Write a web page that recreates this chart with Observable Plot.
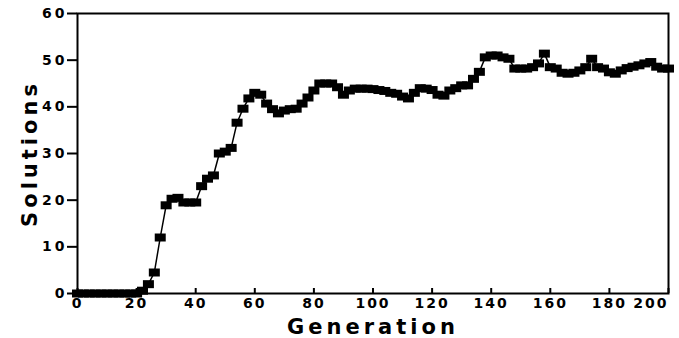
<!DOCTYPE html>
<html><head><meta charset="utf-8">
<script src="https://cdn.jsdelivr.net/npm/d3@7"></script>
<script src="https://cdn.jsdelivr.net/npm/@observablehq/plot@0.6"></script>
<style>body{margin:0;background:#fff;} svg{display:block;}</style>
</head><body>
<div id="chart"></div>
<script>
const generations = [0,2,4,6,8,10,12,14,16,18,20,22,24,26,28,30,32,34,36,38,40,42,44,46,48,50,52,54,56,58,60,62,64,66,68,70,72,74,76,78,80,82,84,86,88,90,92,94,96,98,100,102,104,106,108,110,112,114,116,118,120,122,124,126,128,130,132,134,136,138,140,142,144,146,148,150,152,154,156,158,160,162,164,166,168,170,172,174,176,178,180,182,184,186,188,190,192,194,196,198,200];
const solutions = [0,0,0,0,0,0,0,0,0,0,0,0.6,2,4.5,12,18.9,20.3,20.5,19.5,19.5,19.5,23,24.6,25.3,30,30.4,31.2,36.6,39.6,41.8,43,42.6,40.7,39.5,38.6,39.2,39.5,39.6,40.7,42,43.5,45,45,45,44.2,42.6,43.5,43.9,43.9,43.9,43.8,43.6,43.4,43,42.8,42.2,41.8,43,44,43.9,43.6,42.6,42.4,43.5,44,44.6,44.6,46,47.5,50.6,51,51,50.6,50.3,48.2,48.2,48.2,48.5,49.3,51.4,48.5,48.2,47.3,47.1,47.3,47.8,48.5,50.3,48.5,48.2,47.4,47.1,47.8,48.3,48.6,48.9,49.3,49.6,48.6,48.2,48.2];
const xTicks = [0,20,40,60,80,100,120,140,160,180,200];
const yTicks = [0,10,20,30,40,50,60];

const data = generations.map((g, i) => ({g, s: solutions[i]}));
const rectSymbol = {draw(ctx) { ctx.rect(-5.5, -4, 11, 8); }};
const font = "'DejaVu Sans', sans-serif";

const chart = Plot.plot({
  width: 679, height: 338,
  marginLeft: 77, marginRight: 11, marginTop: 13, marginBottom: 45,
  style: {fontFamily: font, fontWeight: "bold", color: "#000", background: "#fff"},
  x: {domain: [0, 200]},
  y: {domain: [0, 60]},
  marks: [
    Plot.frame({stroke: "#000", strokeWidth: 2}),
    Plot.axisY({ticks: yTicks, tickSize: 10, tickPadding: 0, strokeWidth: 2, fontSize: 14, fontWeight: "bold",
      label: "Solutions", labelAnchor: "center", labelArrow: "none", labelOffset: 55}),
    Plot.axisX({ticks: xTicks, tickSize: -5, tickPadding: 10, strokeWidth: 2, fontSize: 14, fontWeight: "bold",
      label: "Generation", labelAnchor: "center", labelArrow: "none", labelOffset: 40}),
    Plot.line(data, {x: "g", y: "s", stroke: "#000", strokeWidth: 1.5}),
    Plot.dot(data, {x: "g", y: "s", symbol: rectSymbol, fill: "#000", stroke: "none"})
  ]
});
const svg = d3.select(chart);
svg.selectAll("g[aria-label='y-axis tick label'] text").style("letter-spacing", "3px");
svg.selectAll("g[aria-label='x-axis tick label'] text").style("letter-spacing", "2px");
const xl = svg.selectAll("g[aria-label='x-axis tick label'] text").nodes();
if (xl.length) d3.select(xl[xl.length - 1]).attr("text-anchor", "end");
svg.selectAll("g[aria-label='x-axis label'] text, g[aria-label='y-axis label'] text")
  .style("font-size", "21px").style("letter-spacing", "4px");
document.getElementById("chart").appendChild(chart);
</script>
</body></html>
